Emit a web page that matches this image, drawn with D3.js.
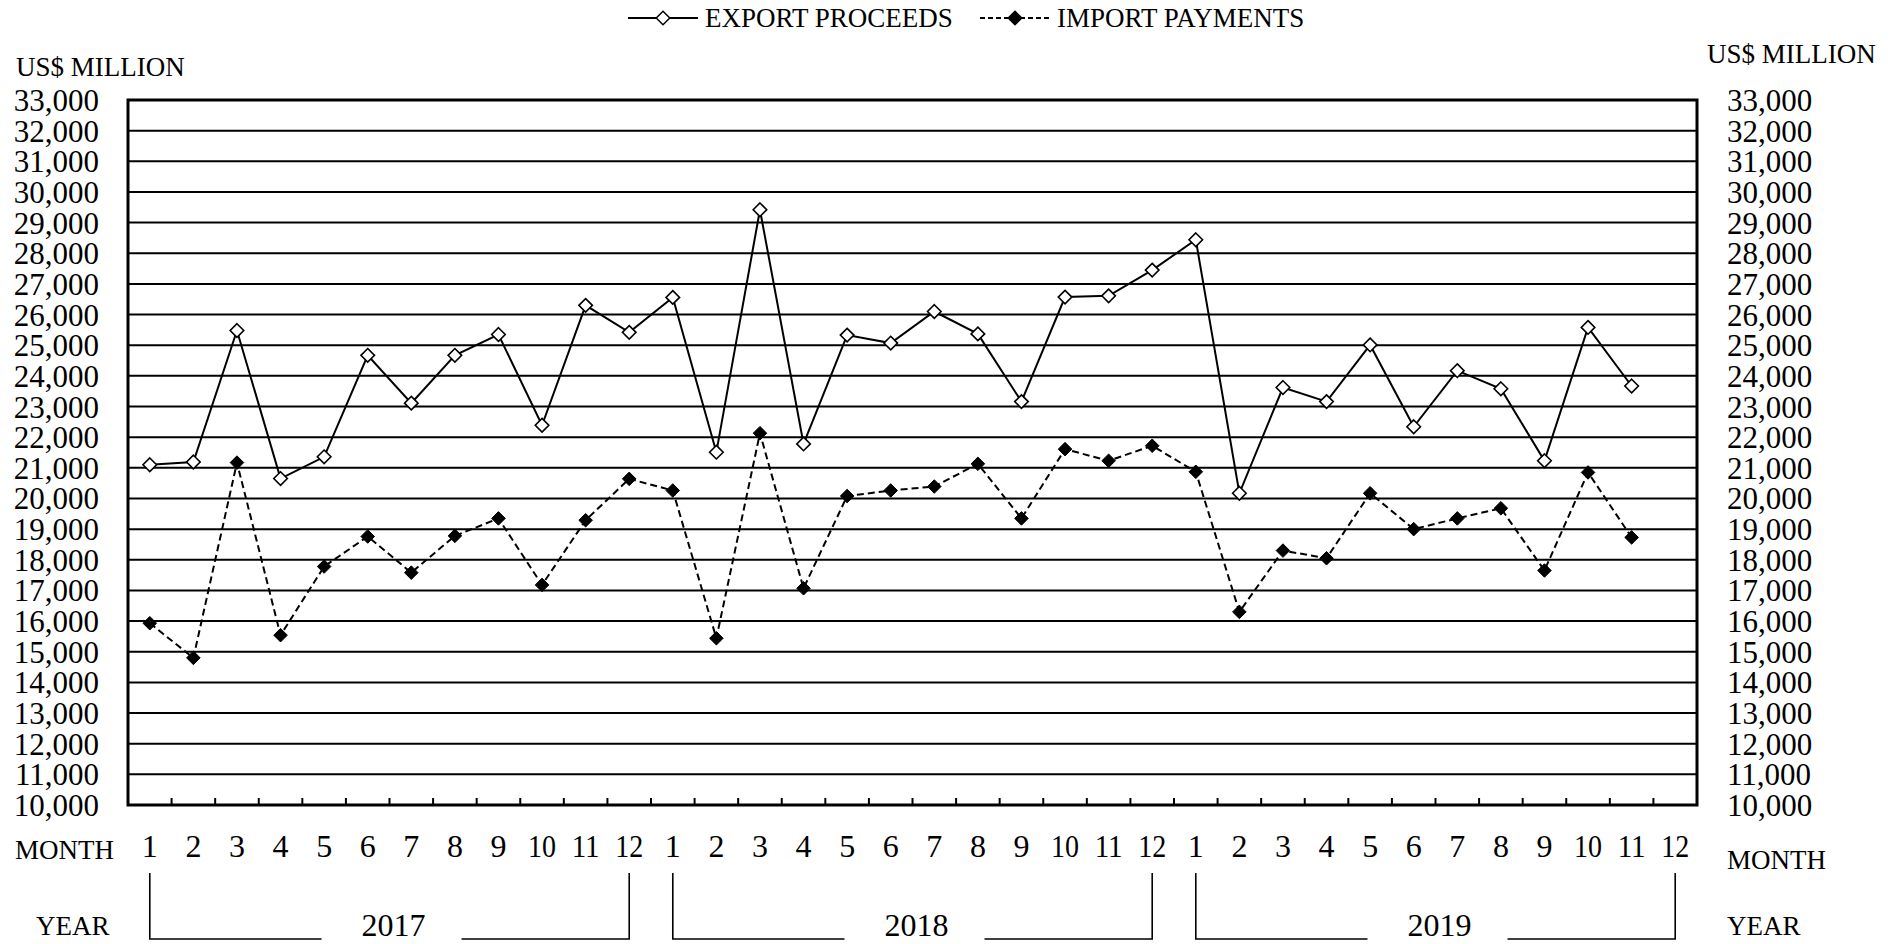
<!DOCTYPE html>
<html>
<head>
<meta charset="utf-8">
<script src="https://cdn.jsdelivr.net/npm/d3@7"></script>
<style>
  html, body { margin: 0; padding: 0; background: #fff; }
  svg { display: block; }
  text { font-family: "Liberation Serif", "Times New Roman", serif; fill: #000; }
</style>
</head>
<body>
<svg id="chart" width="1892" height="944"></svg>
<script>
// ---- data ----
const years = ["2017", "2018", "2019"];
const monthLabels = ["1","2","3","4","5","6","7","8","9","10","11","12"];
const exportProceeds = [
  21100, 21190, 25480, 20650, 21360, 24670, 23110, 24670, 25350, 22390, 26300, 25420,
  26560, 21510, 29420, 21780, 25330, 25070, 26100, 25370, 23160, 26570, 26610, 27450,
  28440, 20170, 23620, 23160, 25010, 22340, 24170, 23580, 21230, 25580, 23670, null
];
const importPayments = [
  15930, 14800, 21170, 15540, 17780, 18760, 17580, 18780, 19350, 17180, 19290, 20640,
  20260, 15440, 22130, 17070, 20080, 20260, 20390, 21130, 19350, 21610, 21230, 21720,
  20870, 16300, 18300, 18050, 20170, 19000, 19350, 19680, 17650, 20850, 18730, null
];
const yTickValues = d3.range(10000, 33001, 1000);
const seriesNames = ["EXPORT PROCEEDS", "IMPORT PAYMENTS"];

// ---- layout ----
const svg = d3.select("#chart");
const plotLeft = 128, plotRight = 1697, plotTop = 100, plotBottom = 805;
const nMonths = years.length * monthLabels.length;
const idx = d3.range(nMonths);

const x = d3.scaleBand().domain(idx).range([plotLeft, plotRight]).padding(0);
const xc = i => x(i) + x.bandwidth() / 2;
const y = d3.scaleLinear().domain([10000, 33000]).range([plotBottom, plotTop]);

const diamond = {
  draw(ctx, size) {
    const r = Math.sqrt(size / 2);
    ctx.moveTo(0, -r); ctx.lineTo(r, 0); ctx.lineTo(0, r); ctx.lineTo(-r, 0); ctx.closePath();
  }
};
const sym = d3.symbol().type(diamond).size(92);

// gridlines
svg.append("g").selectAll("line")
  .data(yTickValues.filter(v => v > 10000 && v < 33000))
  .join("line")
  .attr("x1", plotLeft).attr("x2", plotRight)
  .attr("y1", d => y(d)).attr("y2", d => y(d))
  .attr("stroke", "#000").attr("stroke-width", 2);

// bottom month ticks (at month boundaries, pointing up)
svg.append("g").selectAll("line")
  .data(idx.slice(1))
  .join("line")
  .attr("x1", d => x(d)).attr("x2", d => x(d))
  .attr("y1", plotBottom).attr("y2", plotBottom - 7)
  .attr("stroke", "#000").attr("stroke-width", 2);

// frame
svg.append("rect")
  .attr("x", plotLeft).attr("y", plotTop)
  .attr("width", plotRight - plotLeft).attr("height", plotBottom - plotTop)
  .attr("fill", "none").attr("stroke", "#000").attr("stroke-width", 3);

// y axis labels (left and right)
const fmt = d3.format(",");
svg.append("g").selectAll("text")
  .data(yTickValues).join("text")
  .attr("x", 99).attr("y", d => y(d) + 11)
  .attr("text-anchor", "end")
  .attr("font-size", 31)
  .text(d => fmt(d));
svg.append("g").selectAll("text")
  .data(yTickValues).join("text")
  .attr("x", 1727).attr("y", d => y(d) + 11)
  .attr("text-anchor", "start")
  .attr("font-size", 31)
  .text(d => fmt(d));

// unit labels
svg.append("text").attr("x", 16).attr("y", 76).attr("font-size", 27).text("US$ MILLION");
svg.append("text").attr("x", 1707).attr("y", 63).attr("font-size", 27).text("US$ MILLION");

// month labels
svg.append("g").selectAll("text")
  .data(idx).join("text")
  .attr("x", d => xc(d)).attr("y", 857)
  .attr("text-anchor", "middle")
  .attr("font-size", 32)
  .attr("textLength", d => monthLabels[d % 12].length > 1 ? 28 : null)
  .attr("lengthAdjust", "spacingAndGlyphs")
  .text(d => monthLabels[d % 12]);

svg.append("text").attr("x", 15).attr("y", 859).attr("font-size", 27).text("MONTH");
svg.append("text").attr("x", 1727).attr("y", 869).attr("font-size", 27).text("MONTH");
svg.append("text").attr("x", 36).attr("y", 935).attr("font-size", 27).text("YEAR");
svg.append("text").attr("x", 1727).attr("y", 935).attr("font-size", 27).text("YEAR");

// year brackets
const yb = svg.append("g");
years.forEach((yr, k) => {
  const x0 = xc(k * 12), x1 = xc(k * 12 + 11);
  const mid = (x0 + x1) / 2;
  const g = yb.append("g");
  g.append("path")
    .attr("d", `M${x0},873V939H${mid - 68}M${mid + 72},939H${x1}V873`)
    .attr("fill", "none").attr("stroke", "#000").attr("stroke-width", 1.6);
  g.append("text").attr("x", mid + 4).attr("y", 936)
    .attr("text-anchor", "middle").attr("font-size", 32).text(yr);
});

// series lines
const line = d3.line()
  .defined(d => d != null)
  .x((d, i) => xc(i))
  .y(d => y(d));

svg.append("path").datum(importPayments)
  .attr("d", line).attr("fill", "none")
  .attr("stroke", "#000").attr("stroke-width", 2)
  .attr("stroke-dasharray", "7,4");
svg.append("path").datum(exportProceeds)
  .attr("d", line).attr("fill", "none")
  .attr("stroke", "#000").attr("stroke-width", 2);

// markers
svg.append("g").selectAll("path")
  .data(importPayments.map((v, i) => ({v, i})).filter(d => d.v != null))
  .join("path")
  .attr("transform", d => `translate(${xc(d.i)},${y(d.v)})`)
  .attr("d", sym).attr("fill", "#000").attr("stroke", "#000").attr("stroke-width", 1);
svg.append("g").selectAll("path")
  .data(exportProceeds.map((v, i) => ({v, i})).filter(d => d.v != null))
  .join("path")
  .attr("transform", d => `translate(${xc(d.i)},${y(d.v)})`)
  .attr("d", sym).attr("fill", "#fff").attr("stroke", "#000").attr("stroke-width", 1.6);

// legend
const leg = svg.append("g");
const legItems = [
  {name: seriesNames[0], x0: 628, dash: null, fill: "#fff"},
  {name: seriesNames[1], x0: 980, dash: "5,3", fill: "#000"}
];
legItems.forEach(it => {
  const ly = 18;
  leg.append("line").attr("x1", it.x0).attr("x2", it.x0 + 70)
    .attr("y1", ly).attr("y2", ly)
    .attr("stroke", "#000").attr("stroke-width", 2)
    .attr("stroke-dasharray", it.dash);
  leg.append("path").attr("transform", `translate(${it.x0 + 35},${ly})`)
    .attr("d", sym).attr("fill", it.fill).attr("stroke", "#000").attr("stroke-width", 1.5);
  leg.append("text").attr("x", it.x0 + 77).attr("y", ly + 9)
    .attr("font-size", 27).text(it.name);
});
</script>
</body>
</html>
